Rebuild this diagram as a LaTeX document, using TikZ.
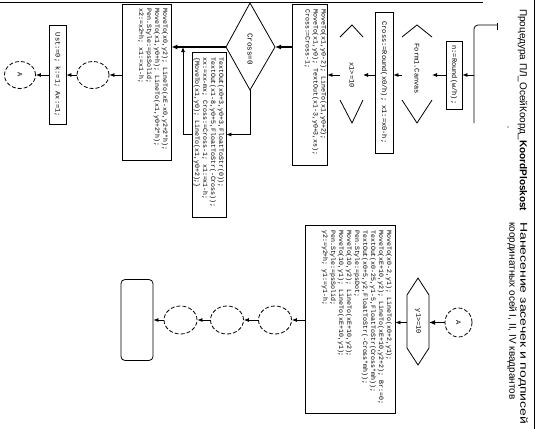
\documentclass[tikz,border=0pt]{standalone}
\usepackage{fontspec}
\setmainfont{Liberation Sans}
\newfontfamily\codefont{Liberation Mono}
\usetikzlibrary{arrows.meta,shapes.geometric,calc}
\begin{document}
\begin{tikzpicture}[x=1pt,y=1pt,
  box/.style={draw,line width=0.8pt,rectangle,inner sep=0pt},
  termbox/.style={draw,line width=0.8pt,rectangle,rounded corners=4pt,inner sep=0pt},
  conn/.style={draw,line width=0.8pt,ellipse,dash pattern=on 4pt off 2pt,inner sep=0pt,
    font=\fontsize{7}{8}\selectfont\codefont},
  code/.style={font=\fontsize{6.6}{8}\selectfont\codefont,rotate=-90,align=left,inner sep=0pt,anchor=north west},
  lbl/.style={font=\fontsize{7}{8}\selectfont\codefont,rotate=-90,inner sep=0pt},
  ttl/.style={font=\fontsize{10}{11}\selectfont,rotate=-90,inner sep=0pt,anchor=north west,align=left},
  thin/.style={line width=0.8pt},
  arr/.style={line width=0.8pt,-{Latex[length=5pt,width=4pt]}},
  tarr/.style={line width=2pt,-{Latex[length=6pt,width=5pt]}}]
\useasboundingbox (0,0) rectangle (539,-429);

% frame
\draw[thin] (0,-2.5) -- (483,-2.5);
\draw[thin] (534.5,0) -- (534.5,-429);

% titles
\node[ttl] (t1) at (527.5,-9) {Процедура ПЛ\_ОсейКоорд\_\textbf{KoordPloskost}};
\node[ttl] (t2) at (528,-222) {\scalebox{1.4}[1]{Нанесение засечек и подписей}\\координатных осей I, II, IV квадрантов};

% ---------- column 1 ----------
\draw[thin,rounded corners=4pt] (497,-25) -- (474,-25) -- (474,-123);
\draw[thin] (497,-22.5) -- (497,-30);
\fill (508,-127) circle (0.7pt);
\coordinate (st) at (474,-75);

\node[box,minimum width=16pt,minimum height=68pt] (b1) at (454,-75) {};
\node[lbl] at (b1) {n:=Round(w/h);};

\draw[thin] (402,-37) -- (417,-25) -- (432,-37);
\draw[thin] (402,-100) -- (417,-123) -- (432,-100);
\coordinate (h1e) at (432,-75);
\coordinate (h1w) at (402,-75);
\node[lbl] (h1t) at (417,-69) {Form1.Canvas};

\node[box,minimum width=18pt,minimum height=141pt] (b3) at (384,-82.5) {};
\node[lbl] at (b3) {Cross:=Round(x0/h); x1:=x0-h;};

\draw[thin] (340,-37) -- (352,-25) -- (363,-37);
\draw[thin] (340,-100) -- (352,-123) -- (363,-100);
\coordinate (h2e) at (363,-75);
\coordinate (h2w) at (340,-75);
\node[lbl] (h2t) at (352,-75) {x1>=10};

\node[box,minimum width=35pt,minimum height=161pt] (b5) at (309.5,-84.5) {};
\node[code] at (326.5,-9) {MoveTo(x1,y0-2); LineTo(x1,y0+2);\\MoveTo(x1,y0); TextOut(x1-3,y0+3,xs);\\Cross:=Cross-1;};

\coordinate (dE) at (275,-47);
\coordinate (dN) at (250,-3);
\coordinate (dW) at (226,-47);
\coordinate (dS) at (250,-90);
\draw[thin] (dE) -- (dN) -- (dW) -- (dS) -- cycle;
\node[lbl,font=\fontsize{7.5}{8}\selectfont\codefont] (dt) at (250,-49) {Cross=0};

\node[box,minimum width=34pt,minimum height=165pt] (bt) at (209,-134.5) {};
\node[code] at (224,-57) {TextOut(x0+3,y0+3,FloatToStr(0));\\TextOut(x1-8,y0+5,FloatToStr(-Cross));\\xx:=xx-mx; Cross:=Cross-1; x1:=x1-h;\\\{MoveTo(x1,y0); LineTo(x1,y0+2);\}};

\node[box,minimum width=49pt,minimum height=156pt] (b6) at (146.5,-82) {};
\node[code] at (168,-8) {MoveTo(x0,y2); LineTo(xE-x0,y2+2*h);\\MoveTo(x1,y0+h); LineTo(x1,y0+2*h);\\Pen.Style:=psSolid;\\x2:=x2+h; x1:=x1-h;};

\node[conn,minimum width=32pt,minimum height=27pt] (c1) at (93,-75) {};
\node[box,minimum width=17pt,minimum height=99pt] (b7) at (57.5,-75) {};
\node[lbl] at (b7) {Ust:=0; k:=1; Ax:=1;};
\node[conn,minimum width=31pt,minimum height=27pt] (c2) at (20,-75) {\rotatebox{-90}{A}};
\coordinate (mg) at (183,-47);

\draw[arr] (st) -- (b1);
\draw[arr] (b1) -- (h1e);
\draw[arr] (h1w) -- (b3.east|-h1w);
\draw[arr] (b3.west|-h1w) -- (h2e);
\draw[arr] (h2w) -- (b5.east|-h2w);
\draw[tarr] (b5.west|-dE) -- (dE);
\draw[tarr] (dW) -- (b6.east|-dW);
\draw[arr] (dS) |- (bt.east);
\draw[arr] (bt.west) -| (mg);
\draw[arr] (b6.west|-c1) -- (c1);
\draw[arr] (c1) -- (b7);
\draw[arr] (b7) -- (c2);

% ---------- column 2 ----------
\node[conn,minimum width=27pt,minimum height=29pt] (cA) at (458.5,-322.5) {\rotatebox{-90}{A}};
\draw[thin] (418,-278) -- (429,-295) -- (429,-348) -- (418,-365) -- (407,-348) -- (407,-295) -- cycle;
\coordinate (h3e) at (429,-322.5);
\coordinate (h3w) at (407,-322.5);
\node[lbl] (h3t) at (418,-321.5) {y1>=10};

\node[box,minimum width=90pt,minimum height=188pt] (b8) at (350,-319) {};
\node[code] at (392,-230) {MoveTo(x0-2,y1); LineTo(x0+2,y1);\\MoveTo(xE+10,y2); LineTo(xE+10,y2+2); Br:=0;\\TextOut(x0-25,y1-5,FloatToStr(Cross*mh));\\TextOut(x0+5,y2,FloatToStr(-Cross*mh));\\Pen.Style:=psDot;\\MoveTo(10,y2); LineTo(xE+10,y2);\\MoveTo(10,y1); LineTo(xE+10,y1);\\Pen.Style:=psSolid;\\y2:=y2+h; y1:=y1-h;};

\node[conn,minimum width=33pt,minimum height=28pt] (ce1) at (275,-320) {};
\node[conn,minimum width=33pt,minimum height=28pt] (ce2) at (227,-320) {};
\node[conn,minimum width=33pt,minimum height=28pt] (ce3) at (180.5,-320) {};
\node[termbox,minimum width=32pt,minimum height=81pt] (te) at (137,-320) {};

\draw[tarr,line width=1.6pt] (cA) -- (h3e);
\draw[arr] (h3w) -- (b8.east|-h3w);
\draw[arr] (b8.west|-ce1) -- (ce1);
\draw[arr] (ce1) -- (ce2);
\draw[arr] (ce2) -- (ce3);
\draw[arr] (ce3) -- (te);
\end{tikzpicture}
\end{document}
